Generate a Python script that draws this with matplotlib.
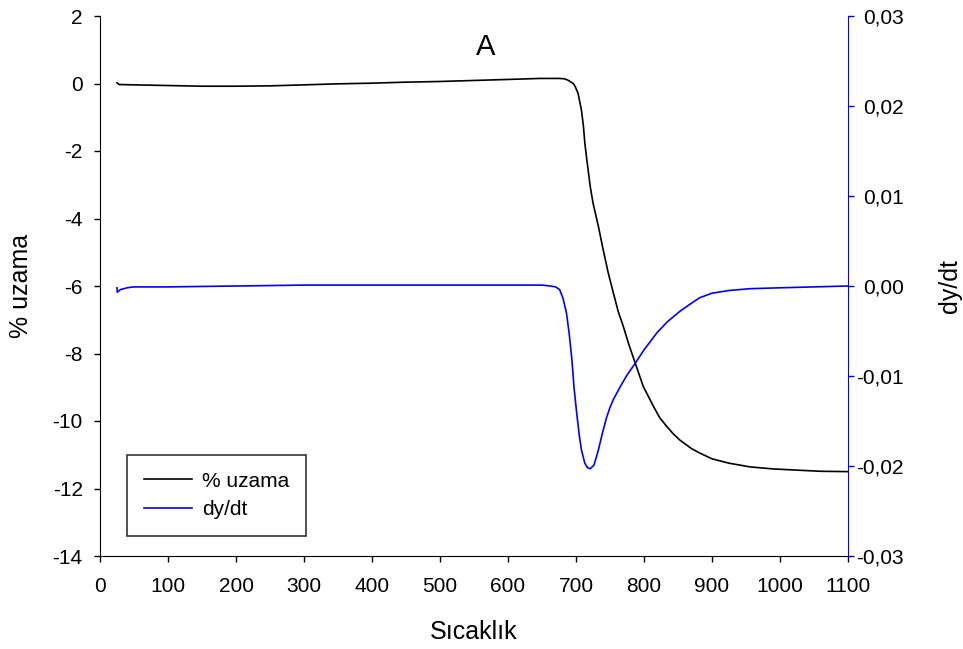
import matplotlib
matplotlib.use("Agg")
import matplotlib.pyplot as plt
from matplotlib.ticker import FuncFormatter

plt.rcParams["font.family"] = ["Liberation Sans", "DejaVu Sans"]
plt.rcParams["axes.unicode_minus"] = False

# % uzama (left axis) vs temperature
temp_uzama = [25, 28, 50, 100, 150, 200, 250, 300, 350, 400, 450, 500, 550, 600,
              647, 675, 683, 688, 692, 696, 699, 703, 708, 711, 713, 716, 721,
              725, 733, 740, 747.5, 755, 762, 769.6, 778, 787, 799, 814, 823,
              833, 843, 853, 870, 882, 900, 925, 956, 990, 1029, 1060, 1100]
uzama = [0.02, -0.03, -0.04, -0.06, -0.08, -0.08, -0.07, -0.04, -0.01, 0.01, 0.04,
         0.06, 0.09, 0.12, 0.15, 0.15, 0.14, 0.1, 0.05, 0.0, -0.1, -0.29, -0.79,
         -1.28, -1.77, -2.27, -3.06, -3.54, -4.24, -4.93, -5.62, -6.21, -6.75,
         -7.2, -7.75, -8.28, -8.98, -9.57, -9.9, -10.15, -10.38, -10.57, -10.82,
         -10.95, -11.12, -11.25, -11.36, -11.42, -11.46, -11.49, -11.5]

# dy/dt (right axis) vs temperature
temp_dydt = [25, 25.5, 30, 40, 49, 100, 200, 300, 400, 500, 600, 650, 662, 670,
             676, 681, 686, 690, 694, 697, 701, 705, 708, 713, 717, 721, 726.5,
             733, 739, 745, 750, 755, 765, 775, 787, 800, 819, 834, 853, 870,
             882, 900, 925, 956, 1000, 1050, 1100]
dydt = [-0.0002, -0.0007, -0.0004, -0.0002, -0.0001, -0.0001, 0.0, 0.0001, 0.0001,
        0.0001, 0.0001, 0.0001, 0.0, -0.0001, -0.0004, -0.0014, -0.003, -0.0053,
        -0.0082, -0.0112, -0.0141, -0.0167, -0.0182, -0.0197, -0.0202, -0.0203,
        -0.0199, -0.0182, -0.0163, -0.0146, -0.0135, -0.0126, -0.0112, -0.0099,
        -0.0086, -0.0071, -0.0052, -0.004, -0.0028, -0.0019, -0.0013, -0.0008,
        -0.0005, -0.0003, -0.0002, -0.0001, 0.0]

x_ticks = list(range(0, 1101, 100))
left_ticks = list(range(-14, 3, 2))
right_ticks = [-0.03, -0.02, -0.01, 0.0, 0.01, 0.02, 0.03]

blue = "#0000ff"

fig = plt.figure(figsize=(9.63, 6.49), dpi=100)
ax = fig.add_axes([100 / 963, 1 - 556 / 649, 748 / 963, 540 / 649])
ax2 = ax.twinx()

l1, = ax.plot(temp_uzama, uzama, color="black", lw=1.2, label="% uzama")
l2, = ax2.plot(temp_dydt, dydt, color=blue, lw=1.2, label="dy/dt")

ax.set_xlim(0, 1100)
ax.set_ylim(-14, 2)
ax2.set_ylim(-0.03, 0.03)
ax.set_xticks(x_ticks)
ax.set_yticks(left_ticks)
ax2.set_yticks(right_ticks)
ax2.yaxis.set_major_formatter(FuncFormatter(lambda v, p: f"{v:.2f}".replace(".", ",")))

for a in (ax, ax2):
    a.spines["top"].set_visible(False)
ax.spines["right"].set_visible(False)
ax2.spines["left"].set_visible(False)
ax2.spines["bottom"].set_visible(False)
ax2.spines["right"].set_color(blue)

ax.tick_params(axis="x", direction="out", length=4, width=1, labelsize=15, pad=11)
ax.tick_params(axis="y", direction="out", length=4, width=1, labelsize=15, pad=8.5)
ax2.tick_params(direction="out", length=4, width=1, labelsize=15, color=blue, pad=36)
for lbl in ax2.get_yticklabels():
    lbl.set_horizontalalignment("right")

ax.set_xlabel("Sıcaklık", fontsize=18, va="center")
ax.xaxis.set_label_coords(0.5, -(632 - 556) / 540)
ax.set_ylabel("% uzama", fontsize=18, va="center")
ax.yaxis.set_label_coords((21 - 100) / 748, 0.5)
ax2.set_ylabel("dy/dt", fontsize=18, va="center")
ax2.yaxis.set_label_coords((950 - 100) / 748, 0.5)

ax.text(0.515, 0.943, "A", transform=ax.transAxes, fontsize=21, ha="center", va="center")

leg = ax.legend(handles=[l1, l2], loc="upper left", bbox_to_anchor=(0.036, 0.187),
                fontsize=15, frameon=True, fancybox=False, handlelength=2.3,
                handletextpad=0.5, borderpad=0.8, labelspacing=0.45, borderaxespad=0)
leg.get_frame().set_edgecolor("black")
leg.get_frame().set_linewidth(1.2)

fig.savefig("out.png", dpi=100)
